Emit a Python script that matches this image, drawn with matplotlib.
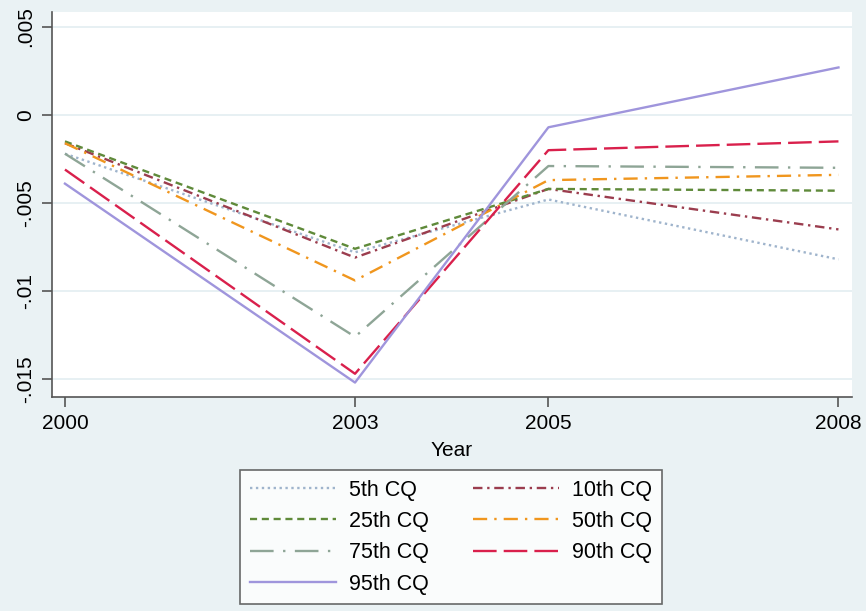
import matplotlib
matplotlib.use("Agg")
import matplotlib.pyplot as plt

# data
years = [2000, 2003, 2005, 2008]
labels = ["5th CQ", "10th CQ", "25th CQ", "50th CQ", "75th CQ", "90th CQ", "95th CQ"]
q05 = [-0.0022, -0.0078, -0.0048, -0.0082]
q10 = [-0.0016, -0.0081, -0.0042, -0.0065]
q25 = [-0.0015, -0.0076, -0.0042, -0.0043]
q50 = [-0.0016, -0.0094, -0.0037, -0.0034]
q75 = [-0.0022, -0.0126, -0.0029, -0.0030]
q90 = [-0.0031, -0.0147, -0.0020, -0.0015]
q95 = [-0.0039, -0.0152, -0.0007, 0.0027]
yticks = [0.005, 0, -0.005, -0.01, -0.015]
ytick_labels = [".005", "0", "-.005", "-.01", "-.015"]

series = [q05, q10, q25, q50, q75, q90, q95]
styles = [
    ("#9fb4cc", (0, (1, 1.5))),
    ("#9b3d4e", (0, (4, 2, 1, 2))),
    ("#5f8a3a", (0, (3, 2))),
    ("#f0961e", (0, (6, 3, 1, 3))),
    ("#8ea596", (0, (10, 4, 1, 4))),
    ("#d9204c", (0, (10, 3))),
    ("#9f95dc", "solid"),
]

plt.rcParams["font.family"] = ["Liberation Sans", "DejaVu Sans"]
bg = "#eaf2f4"

fig = plt.figure(figsize=(8.66, 6.11), dpi=100, facecolor=bg)
ax = fig.add_axes([52 / 866, 1 - 397 / 611, 800 / 866, 385 / 611])
ax.set_facecolor("white")

handles = []
for vals, lab, (col, ls) in zip(series, labels, styles):
    h, = ax.plot(years, vals, color=col, linestyle=ls, linewidth=1.7, label=lab)
    handles.append(h)

ax.set_xlim(1999.866, 2008.14)
ax.set_ylim(-0.01602, 0.00585)
ax.set_xticks(years)
ax.set_xticklabels([str(y) for y in years], fontsize=15)
ax.set_yticks(yticks)
ax.set_yticklabels(ytick_labels, fontsize=15, rotation=90, va="center")
ax.grid(axis="y", color="#e3edf1", linewidth=1.2)
ax.set_axisbelow(True)

for s in ["top", "right"]:
    ax.spines[s].set_visible(False)
for s in ["left", "bottom"]:
    ax.spines[s].set_color("#555555")
    ax.spines[s].set_linewidth(1.2)
ax.tick_params(direction="out", length=7, width=1.2, color="#555555", pad=5)
ax.set_xlabel("Year", fontsize=15, labelpad=6)

# legend box: top edge at y=470 px, spanning x=240..662 px
order = [0, 2, 4, 6, 1, 3, 5]
leg = fig.legend([handles[i] for i in order], [labels[i] for i in order],
                 ncol=2, loc="upper left",
                 bbox_to_anchor=(240 / 866, 1 - 470 / 611, 422 / 866, 0),
                 mode="expand", fontsize=15.5, handlelength=4.0, handletextpad=0.6,
                 labelspacing=0.48, borderaxespad=0, frameon=True, fancybox=False,
                 columnspacing=1.2, borderpad=0.45)
leg.get_frame().set_edgecolor("#444444")
leg.get_frame().set_linewidth(1.2)

fig.savefig("out.png", dpi=100, facecolor=bg)
